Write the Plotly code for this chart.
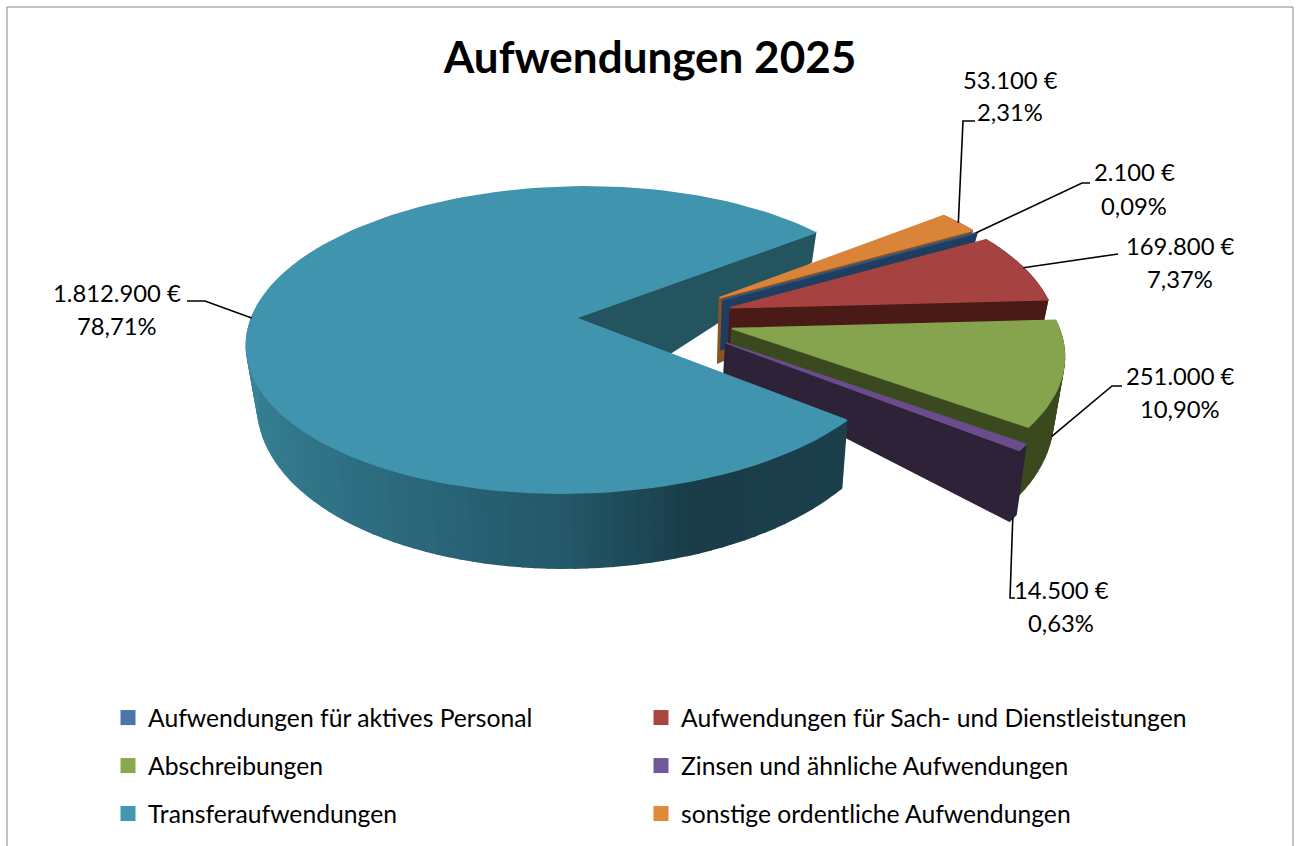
import math
import plotly.graph_objects as go

# ---- data ----
categories = ["Aufwendungen für aktives Personal", "Aufwendungen für Sach- und Dienstleistungen",
              "Abschreibungen", "Zinsen und ähnliche Aufwendungen",
              "Transferaufwendungen", "sonstige ordentliche Aufwendungen"]
values = [2100, 169800, 251000, 14500, 1812900, 53100]

# ---- styles ----
top_colors = ["#2c5685", "#a64341", "#86a44d", "#6a4d8c", "#4094ad", "#da843a"]
legend_colors = ["#4a76ac", "#ab4541", "#8ca84f", "#71589a", "#4298b0", "#de8a38"]
face_colors = ["#1f3d5f", "#4a1a16", "#3a4a1e", "#2e2238", "#24545f", "#8a5520"]
rim_colors = ["#1f3d5f", "#4a1a16", "#3a4a1e", "#2e2238", None, "#8a5520"]
rim_stops = [(129, "#1c404c"), (160, "#1a3d49"), (180, "#24586a"), (211, "#2e6c80"),
             (235, "#337a8e"), (262, "#3a8398"), (290, "#3f8fa8"), (420, "#3f8fa8")]
apex_depth = [50, 45, 35, 32, 95, 65]
explode = [0.245, 0.245, 0.245, 0.268, 0.245, 0.245]
draw_order = [5, 0, 1, 2, 3, 4]
FONT = "Lato"
START = 60.0
CX, CY, RX, KY, D, Q = 655, 318, 324, 150, 6.95, 0.973

# label layout: (centre x, first line y, second line y), leader path elbows, leader start on bottom rim?
label_pos = [(1134, 172, 206), (1180, 246, 279), (1180, 376, 409), (1061, 590, 623), (117, 293, 326), (1010, 80, 112)]
elbows = [[(1082, 183), (1090, 183)], [(1118, 254)], [(1112, 386), (1122, 386)],
          [(1010, 598), (1015, 598)], [(205, 301), (187, 301)], [(963, 121), (975, 121)]]
leader_bottom = [False, False, True, True, False, False]
legend_xy = [(108, 718), (641, 718), (108, 766), (641, 766), (108, 814), (641, 814)]


def hex2rgb(h):
    return tuple(int(h[i:i + 2], 16) for i in (1, 3, 5))


def rim_color(t):
    t = t % 360
    if t < 129:
        t += 360
    for (a, ca), (b, cb) in zip(rim_stops, rim_stops[1:]):
        if a <= t <= b:
            f = (t - a) / (b - a)
            ra, rb = hex2rgb(ca), hex2rgb(cb)
            return "rgb(%d,%d,%d)" % tuple(ra[i] + (rb[i] - ra[i]) * f for i in range(3))
    return rim_stops[-1][1]


def depth(v):
    return 56 - 19 * v if v < 0 else 56 - 43 * v


def proj(u, v, dz=0.0):
    s = D / (D + v)
    x = CX + RX * u * s
    y = CY - KY * v * s
    if dz:
        x = CX + (x - CX) * Q
        y = y + dz
    return x, y


total = sum(values)
spans = []
acc = START
for val in values:
    sw = 360 * val / total
    spans.append((acc, acc + sw))
    acc += sw


def offset(i):
    m = math.radians(sum(spans[i]) / 2)
    return explode[i] * math.sin(m), explode[i] * math.cos(m)


def rim_pt(i, t, bottom=False):
    ou, ov = offset(i)
    r = math.radians(t)
    u, v = ou + math.sin(r), ov + math.cos(r)
    return proj(u, v, depth(v) if bottom else 0.0)


fig = go.Figure()


def poly(pts, color):
    xs = [p[0] for p in pts] + [pts[0][0]]
    ys = [p[1] for p in pts] + [pts[0][1]]
    fig.add_trace(go.Scatter(x=xs, y=ys, mode="lines", fill="toself", fillcolor=color,
                             line=dict(color=color, width=1.5), hoverinfo="skip", showlegend=False))


def apex_points(i):
    ou, ov = offset(i)
    apex = proj(ou, ov)
    return apex, (CX + (apex[0] - CX) * Q, apex[1] + apex_depth[i])


# the back cut face of the large slice lies behind the small slices
apex, apex_b = apex_points(4)
poly([apex, rim_pt(4, spans[4][1]), rim_pt(4, spans[4][1], True), apex_b], face_colors[4])

for i in draw_order:
    a0, a1 = spans[i]
    apex, apex_b = apex_points(i)
    n = max(2, int((a1 - a0) / 2))
    angs = [a0 + (a1 - a0) * k / n for k in range(n + 1)]
    if i != 4:
        poly([apex, rim_pt(i, a1), rim_pt(i, a1, True), apex_b], face_colors[i])
    for t0, t1 in zip(angs, angs[1:]):
        if i == 4 and ((t0 % 360) < 100 or (t0 % 360) > 300):
            continue
        col = rim_colors[i] or rim_color((t0 + t1) / 2)
        poly([rim_pt(i, t0), rim_pt(i, t1), rim_pt(i, t1, True), rim_pt(i, t0, True)], col)
    poly([apex] + [rim_pt(i, t) for t in angs], top_colors[i])

# leaders
for i in range(6):
    m = sum(spans[i]) / 2
    start = rim_pt(i, m, leader_bottom[i])
    path = [start] + elbows[i]
    fig.add_trace(go.Scatter(x=[p[0] for p in path], y=[p[1] for p in path], mode="lines",
                             line=dict(color="#000000", width=1.6), hoverinfo="skip", showlegend=False))

# one legend per entry, so each sits at its own grid position
legend_names = ["legend", "legend2", "legend3", "legend4", "legend5", "legend6"]
for i, name in enumerate(categories):
    fig.add_trace(go.Scatter(x=[None], y=[None], mode="markers", name=name,
                             marker=dict(symbol="square", size=15, color=legend_colors[i]),
                             legend=legend_names[i]))

annotations = []
for i, val in enumerate(values):
    euro = f"{val:,}".replace(",", ".") + " €"
    pct = f"{100 * val / total:.2f}".replace(".", ",") + "%"
    cx, y1, y2 = label_pos[i]
    for txt, y in ((euro, y1), (pct, y2)):
        annotations.append(dict(x=cx, y=y, xref="x", yref="y", text=txt, showarrow=False,
                                xanchor="center", yanchor="middle",
                                font=dict(family=FONT, size=23.8, color="#000000")))


def leg(x, y):
    return dict(orientation="v", x=x / 1301, xanchor="left", y=1 - y / 846, yanchor="middle",
                bgcolor="rgba(0,0,0,0)", font=dict(family=FONT, size=24.7, color="#000000"),
                itemclick=False, itemdoubleclick=False, itemsizing="trace")


fig.update_layout(
    width=1301, height=846, margin=dict(l=0, r=0, t=0, b=0),
    plot_bgcolor="white", paper_bgcolor="white",
    xaxis=dict(range=[0, 1301], visible=False, fixedrange=True),
    yaxis=dict(range=[846, 0], visible=False, fixedrange=True),
    title=dict(text="<b>Aufwendungen 2025</b>", x=650 / 1301, xanchor="center", y=1 - 58 / 846, yanchor="middle",
               font=dict(family=FONT, size=44, color="#000000")),
    annotations=annotations,
    shapes=[dict(type="rect", xref="x", yref="y", x0=7, x1=1293, y0=7, y1=900,
                 line=dict(color="#868686", width=1), layer="below")],
)
fig.update_layout(**{n: leg(*xy) for n, xy in zip(legend_names, legend_xy)})
fig.write_html("out.html", post_script="document.body.style.margin='0';document.body.style.overflow='hidden';",
               config=dict(displayModeBar=False))
